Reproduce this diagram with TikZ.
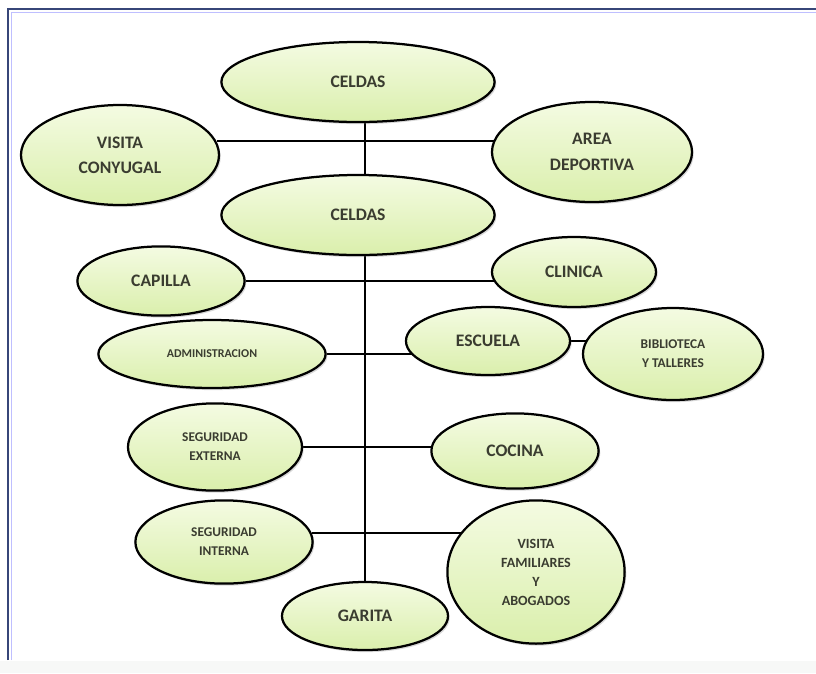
\documentclass[tikz,border=0pt]{standalone}
\usepackage{fontspec}
\setmainfont{Carlito}
\usetikzlibrary{shapes.geometric, backgrounds, shadows}

\definecolor{celltop}{RGB}{244,251,226}
\definecolor{cellgreen}{RGB}{218,239,172}
\definecolor{frameblue}{RGB}{55,70,120}
\definecolor{inkgray}{RGB}{58,60,48}

\begin{document}
\begin{tikzpicture}[
    x=0.025cm, y=-0.025cm,
    room/.style={
        ellipse, draw=black, line width=1.6pt,
        inner sep=0pt, align=center,
        top color=celltop, bottom color=cellgreen,
        text=inkgray,
        drop shadow={shadow xshift=1.2pt, shadow yshift=-1.5pt, opacity=0.3}
    },
    bigtxt/.style={font=\fontsize{12.5}{18}\selectfont\bfseries},
    midtxt/.style={font=\fontsize{10}{13.5}\selectfont\bfseries},
    smalltxt/.style={font=\fontsize{9.5}{13.5}\selectfont\bfseries},
    link/.style={line width=1.4pt}
]
\useasboundingbox (0,0) rectangle (816,673);

% Page and frame
\begin{scope}[on background layer]
\fill[white] (0,0) rectangle (816,673);
\fill[green!3!gray!6] (0,661) rectangle (816,673);
\draw[blue!25, line width=0.6pt] (11,660) -- (11,12) -- (816,12);
\draw[frameblue, line width=1.5pt] (8,660) -- (8,9) -- (816,9);
\end{scope}

% ------- Top block -------
\node[room, bigtxt, minimum width=6.83cm, minimum height=2.0cm] (celdasTop) at (358,82) {CELDAS};
\node[room, bigtxt, minimum width=4.95cm, minimum height=2.5cm] (conyugal) at (120,155) {VISITA\\CONYUGAL};
\node[room, bigtxt, minimum width=5.0cm, minimum height=2.5cm] (deporte) at (592,152) {AREA\\DEPORTIVA};
\node[room, bigtxt, minimum width=6.83cm, minimum height=2.0cm] (celdasMid) at (358,215) {CELDAS};

% ------- Branches along the spine -------
\node[room, bigtxt, minimum width=4.18cm, minimum height=1.73cm] (capilla) at (161,281) {CAPILLA};
\node[room, bigtxt, minimum width=4.1cm, minimum height=1.75cm] (clinica) at (574,272) {CLINICA};
\node[room, font=\fontsize{8.5}{9}\selectfont\bfseries, minimum width=5.68cm, minimum height=1.7cm] (admin) at (212,354) {ADMINISTRACION};
\node[room, bigtxt, minimum width=4.1cm, minimum height=1.7cm] (escuela) at (488,341) {ESCUELA};
\node[room, smalltxt, minimum width=4.5cm, minimum height=2.3cm] (biblio) at (673,354) {BIBLIOTECA\\Y TALLERES};
\node[room, smalltxt, minimum width=4.35cm, minimum height=2.18cm] (segExt) at (215,447) {SEGURIDAD\\EXTERNA};
\node[room, bigtxt, minimum width=4.18cm, minimum height=1.88cm] (cocina) at (515,451) {COCINA};
\node[room, smalltxt, minimum width=4.43cm, minimum height=2.08cm] (segInt) at (224,542) {SEGURIDAD\\INTERNA};
\node[room, midtxt, minimum width=4.43cm, minimum height=3.58cm] (visFam) at (536,572) {VISITA\\FAMILIARES\\Y\\ABOGADOS};
\node[room, bigtxt, minimum width=4.15cm, minimum height=1.7cm] (garita) at (365,616) {GARITA};

% Connectors (behind the ellipses)
\begin{scope}[on background layer]
\draw[link] (garita |- celdasTop) -- (garita);
\draw[link] (conyugal.8) -- (conyugal.8 -| deporte);
\draw[link] (capilla) -- (capilla -| clinica);
\draw[link] (admin) -- (admin -| escuela);
\draw[link] (escuela) -- (escuela -| biblio);
\draw[link] (segExt) -- (segExt -| cocina);
\draw[link] (segInt.6) -- (segInt.6 -| visFam);
\end{scope}
\end{tikzpicture}
\end{document}
